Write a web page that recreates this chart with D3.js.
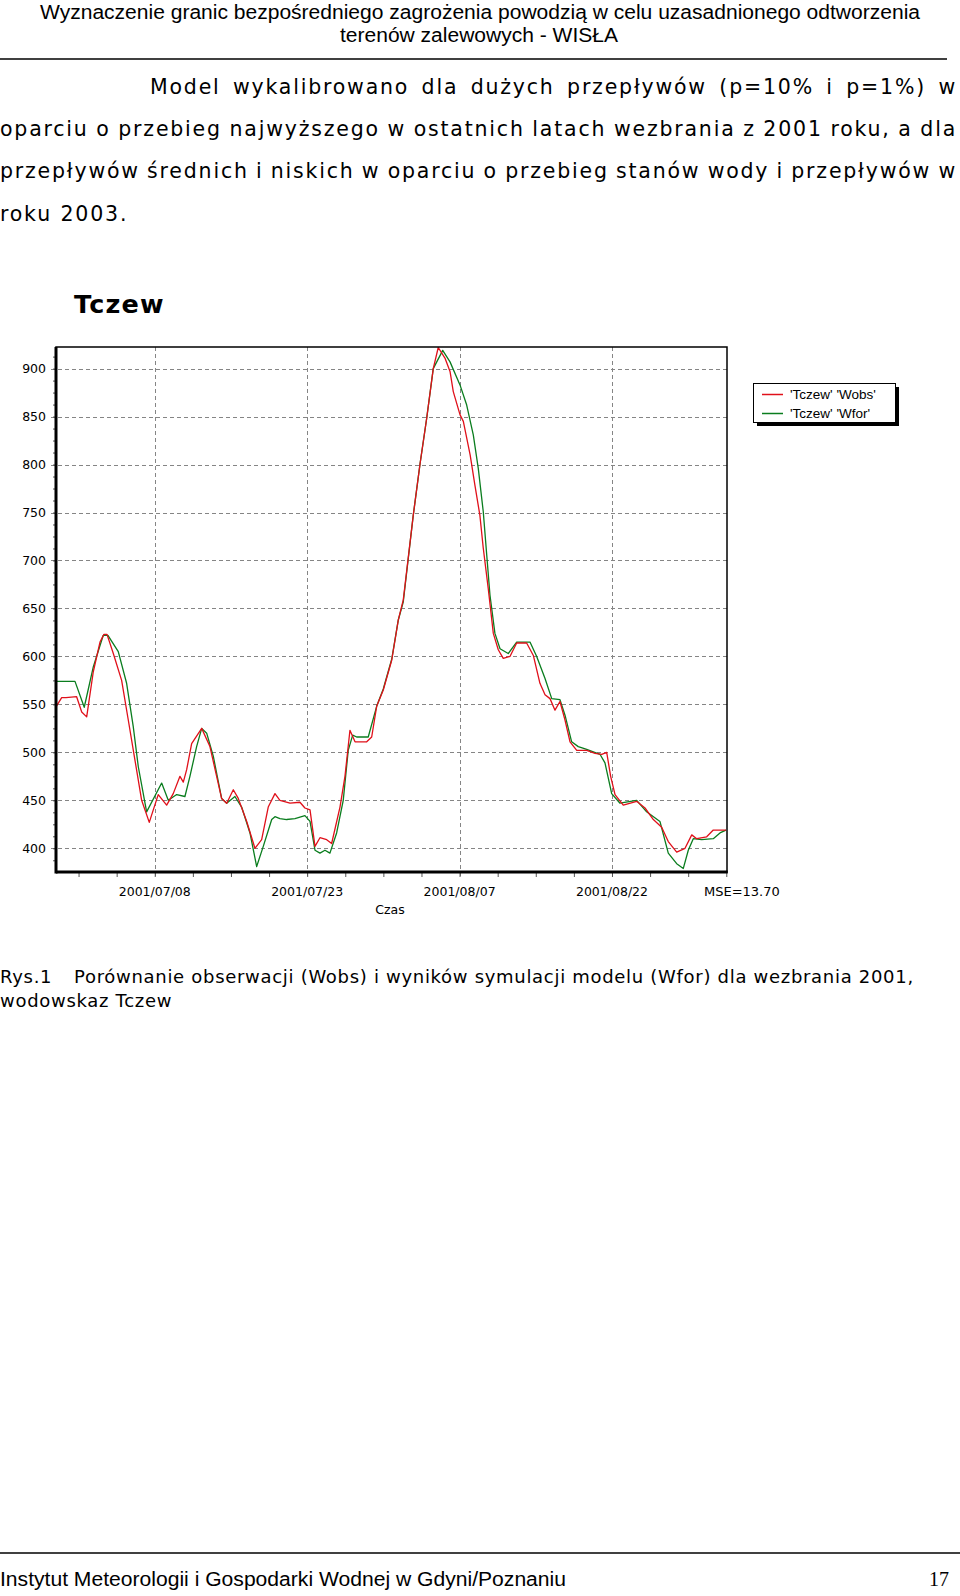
<!DOCTYPE html>
<html>
<head>
<meta charset="utf-8">
<script src="https://cdn.jsdelivr.net/npm/d3@7"></script>
<style>
  body { margin: 0; background: #fff; }
  svg { display: block; }
</style>
</head>
<body>
<div class="page"></div>
<script>
// chart data (days counted from 2001-07-08 00:00, water level in cm)
var obsDays = [-9.69, -9.16, -8.74, -7.69, -7.19, -6.70, -6.05, -5.39, -5.00, -4.70, -4.08, -3.26, -2.61, -1.95, -1.29, -0.54,
  0.34, 1.17, 1.82, 2.48, 2.81, 3.14, 3.63, 4.62, 5.43, 6.09, 6.58, 7.08, 7.73, 8.22, 9.05, 9.86, 10.52, 11.17, 11.83, 12.32,
  13.31, 14.29, 14.78, 15.28, 15.77, 16.26, 16.92, 17.41, 18.23, 18.72, 19.21, 19.71, 20.86, 21.35, 21.84, 22.49, 23.32, 23.97,
  24.46, 25.44, 26.10, 26.76, 27.41, 27.90, 28.56, 29.06, 29.38, 30.04, 30.37, 31.04, 31.50, 32.00, 32.33, 32.82, 33.32, 33.81,
  34.30, 34.96, 35.62, 36.60, 37.26, 37.91, 38.41, 38.90, 39.39, 39.88, 40.37, 40.87, 41.53, 42.51, 43.33, 43.99, 44.48, 44.87,
  45.30, 46.11, 47.43, 48.25, 49.07, 49.89, 50.54, 51.37, 52.19, 52.85, 53.34, 54.32, 54.97, 56.22];
var obsVals = [548, 557, 557, 558, 542, 537, 584, 615, 623, 623, 603, 575, 534, 492, 450, 427,
  456, 445, 457, 475, 469, 482, 509, 525, 506, 475, 452, 447, 461, 452, 428, 400, 409, 443, 457, 450,
  447, 448, 442, 440, 402, 411, 409, 405, 443, 475, 523, 511, 511, 516, 548, 565, 596, 638,
  659, 747, 800, 848, 900, 922, 911, 897, 876, 852, 845, 810, 779, 747, 713, 671, 624, 607,
  598, 600, 614, 614, 601, 572, 560, 556, 544, 553, 534, 511, 502, 502, 499, 498, 500, 475,
  456, 445, 449, 442, 430, 422, 407, 396, 400, 414, 410, 412, 419, 419];

var forDays = [-9.69, -7.85, -6.94, -6.05, -5.07, -4.61, -3.59, -2.77, -2.12, -1.62, -0.80, 0.68, 1.33, 2.16, 2.97, 3.46,
  4.12, 4.62, 5.11, 5.76, 6.58, 7.08, 7.89, 8.55, 9.37, 10.03, 10.68, 11.51, 11.83, 12.32, 12.98, 13.80, 14.78, 15.28,
  15.77, 16.26, 16.75, 17.24, 17.90, 18.55, 19.04, 19.48, 19.87, 21.01, 21.84, 22.49, 23.32, 23.97, 24.46, 25.44, 26.10,
  26.76, 27.41, 28.34, 29.06, 30.04, 30.70, 31.35, 31.84, 32.33, 32.67, 32.99, 33.48, 33.98, 34.79, 35.62, 36.93, 37.59,
  38.41, 39.07, 39.88, 40.37, 41.03, 41.68, 42.51, 43.82, 44.31, 44.97, 45.79, 47.43, 48.41, 49.72, 50.54, 51.37, 52.02,
  52.51, 53.00, 53.83, 54.97, 55.63, 56.22];
var forVals = [574, 574, 547, 589, 622, 622, 605, 572, 527, 485, 438, 468, 450, 456, 454, 475,
  506, 525, 520, 496, 452, 447, 454, 443, 416, 381, 402, 430, 433, 431, 430, 431, 434, 428,
  398, 395, 398, 395, 416, 450, 502, 518, 516, 516, 548, 566, 597, 638, 657, 747, 800,
  848, 900, 919, 907, 883, 862, 831, 796, 751, 706, 664, 624, 608, 603, 615, 615, 600,
  577, 556, 555, 539, 511, 506, 503, 498, 489, 457, 447, 450, 438, 428, 395, 384, 379,
  398, 410, 409, 410, 416, 419];

var yTicks = [400, 450, 500, 550, 600, 650, 700, 750, 800, 850, 900];
var xTickLabels = ["2001/07/08", "2001/07/23", "2001/08/07", "2001/08/22"];
var seriesNames = ["'Tczew' 'Wobs'", "'Tczew' 'Wfor'"];
var seriesColors = ["#e0101a", "#0a7d1e"];
var mseText = "MSE=13.70";

var headerLines = ["Wyznaczenie granic bezpośredniego zagrożenia powodzią w celu uzasadnionego odtworzenia",
  "terenów zalewowych - WISŁA"];
var paraLines = ["Model wykalibrowano dla dużych przepływów (p=10% i p=1%) w",
  "oparciu o przebieg najwyższego w ostatnich latach wezbrania z 2001 roku, a dla",
  "przepływów średnich i niskich w oparciu o przebieg stanów wody i przepływów w",
  "roku 2003."];
var captionLines = ["Porównanie obserwacji (Wobs) i wyników symulacji modelu (Wfor) dla wezbrania 2001,",
  "wodowskaz Tczew"];
var footerText = "Instytut Meteorologii i Gospodarki Wodnej w Gdyni/Poznaniu";

var svgWidth = 960;
var svgHeight = 1596;

var svg = d3.select(".page")
  .append("svg")
  .attr("width", svgWidth)
  .attr("height", svgHeight);

// page header
svg.append("text")
  .attr("x", 480).attr("y", 19)
  .attr("text-anchor", "middle")
  .attr("font-family", "Liberation Sans, Arial, sans-serif")
  .attr("font-size", 20)
  .attr("textLength", 880).attr("lengthAdjust", "spacingAndGlyphs")
  .text(headerLines[0]);
svg.append("text")
  .attr("x", 479).attr("y", 42)
  .attr("text-anchor", "middle")
  .attr("font-family", "Liberation Sans, Arial, sans-serif")
  .attr("font-size", 20)
  .attr("textLength", 278).attr("lengthAdjust", "spacingAndGlyphs")
  .text(headerLines[1]);
svg.append("line")
  .attr("x1", 0).attr("x2", 947).attr("y1", 59).attr("y2", 59)
  .attr("stroke", "#000").attr("stroke-width", 1.6);

// justified paragraph (wide letter spacing as in the scanned page)
var paraFont = "DejaVu Sans, Verdana, sans-serif";
var paraSize = 20.5;
var paraSpacing = 1.8;
var paraBase = [94, 136, 178, 221];
var paraStart = [150, 0, 0, 0];
var paraEnd = 957;
paraLines.forEach(function(line, i) {
  var words = line.split(" ");
  var g = svg.append("g");
  var nodes = words.map(function(w) {
    return g.append("text")
      .attr("y", paraBase[i])
      .attr("font-family", paraFont)
      .attr("font-size", paraSize)
      .attr("letter-spacing", paraSpacing)
      .text(w);
  });
  var widths = nodes.map(n => n.node().getComputedTextLength());
  var total = d3.sum(widths);
  var gap = paraSize * 0.33 + paraSpacing;
  if (i < paraLines.length - 1 && words.length > 1) {
    gap = (paraEnd - paraStart[i] - total) / (words.length - 1);
  }
  var x = paraStart[i];
  nodes.forEach(function(n, k) {
    n.attr("x", x);
    x += widths[k] + gap;
  });
});

// chart title
svg.append("text")
  .attr("x", 74).attr("y", 313)
  .attr("font-family", "DejaVu Sans, Verdana, sans-serif")
  .attr("font-weight", "bold")
  .attr("font-size", 25.5)
  .attr("letter-spacing", 1.2)
  .text("Tczew");

// plot area
var plot = {left: 56, top: 347, right: 727, bottom: 872};
var width = plot.right - plot.left;
var height = plot.bottom - plot.top;

var base = Date.UTC(2001, 6, 8);
function toDate(d) { return new Date(base + d * 864e5); }

var xScale = d3.scaleUtc()
  .domain([toDate(-9.72), toDate(56.32)])
  .range([0, width]);

var yScale = d3.scaleLinear()
  .domain([375.3, 922.5])
  .range([height, 0]);

var parseTick = d3.utcParse("%Y/%m/%d");
var xTicks = xTickLabels.map(parseTick);
var xMinor = d3.range(-8, 60).map(k => toDate(k * 3.75)).filter(d => d >= xScale.domain()[0] && d <= xScale.domain()[1]);
var yMinor = d3.range(375, 925, 12.5).filter(v => v >= 376);

var chartGroup = svg.append("g")
  .attr("transform", `translate(${plot.left}, ${plot.top})`);

// grid
chartGroup.append("g")
  .selectAll("line")
  .data(yTicks)
  .enter()
  .append("line")
  .attr("x1", -5).attr("x2", width)
  .attr("y1", d => Math.round(yScale(d)) + 0.5)
  .attr("y2", d => Math.round(yScale(d)) + 0.5)
  .attr("stroke", "#858585")
  .attr("stroke-dasharray", "4,3");

chartGroup.append("g")
  .selectAll("line")
  .data(xTicks)
  .enter()
  .append("line")
  .attr("x1", d => Math.round(xScale(d)) + 0.5)
  .attr("x2", d => Math.round(xScale(d)) + 0.5)
  .attr("y1", 0).attr("y2", height + 6)
  .attr("stroke", "#858585")
  .attr("stroke-dasharray", "4,3");

// minor ticks
var yAxis = d3.axisLeft(yScale).tickValues(yMinor).tickSize(3).tickFormat("");
chartGroup.append("g").call(yAxis)
  .call(g => g.select(".domain").remove())
  .call(g => g.selectAll("line").attr("stroke", "#555"));

var xAxis = d3.axisBottom(xScale).tickValues(xMinor).tickSize(5).tickFormat("");
chartGroup.append("g")
  .attr("transform", `translate(0, ${height})`)
  .call(xAxis)
  .call(g => g.select(".domain").remove())
  .call(g => g.selectAll("line").attr("stroke", "#555"));

// tick labels
chartGroup.append("g")
  .selectAll("text")
  .data(yTicks)
  .enter()
  .append("text")
  .attr("x", -10)
  .attr("y", d => yScale(d))
  .attr("dy", "0.35em")
  .attr("text-anchor", "end")
  .attr("font-family", "DejaVu Sans, Verdana, sans-serif")
  .attr("font-size", 12.5)
  .text(d => d);

chartGroup.append("g")
  .selectAll("text")
  .data(xTicks)
  .enter()
  .append("text")
  .attr("x", d => xScale(d))
  .attr("y", height + 24)
  .attr("text-anchor", "middle")
  .attr("font-family", "DejaVu Sans, Verdana, sans-serif")
  .attr("font-size", 12.5)
  .text(d => d3.utcFormat("%Y/%m/%d")(d));

chartGroup.append("text")
  .attr("x", width - 23)
  .attr("y", height + 24)
  .attr("font-family", "DejaVu Sans, Verdana, sans-serif")
  .attr("font-size", 13)
  .text(mseText);

chartGroup.append("text")
  .attr("x", 334)
  .attr("y", height + 42)
  .attr("text-anchor", "middle")
  .attr("font-family", "DejaVu Sans, Verdana, sans-serif")
  .attr("font-size", 12.5)
  .text("Czas");

// series lines
var series = [
  {days: obsDays, vals: obsVals},
  {days: forDays, vals: forVals}
];
var line = d3.line()
  .x(d => xScale(d[0]))
  .y(d => yScale(d[1]));

chartGroup.append("clipPath").attr("id", "plotClip")
  .append("rect").attr("width", width).attr("height", height);

series.slice().reverse().forEach(function(s, i) {
  var idx = series.length - 1 - i;
  var pts = s.days.map((d, k) => [toDate(d), s.vals[k]]);
  chartGroup.append("path")
    .datum(pts)
    .attr("clip-path", "url(#plotClip)")
    .attr("fill", "none")
    .attr("stroke", seriesColors[idx])
    .attr("stroke-width", 1.3)
    .attr("stroke-linejoin", "round")
    .attr("d", line);
});

// frame
chartGroup.append("rect")
  .attr("width", width).attr("height", height)
  .attr("fill", "none")
  .attr("stroke", "#000")
  .attr("stroke-width", 1.5);
chartGroup.append("line")
  .attr("x1", 0).attr("x2", 0).attr("y1", 0).attr("y2", height + 1.5)
  .attr("stroke", "#000").attr("stroke-width", 3);
chartGroup.append("line")
  .attr("x1", 0).attr("x2", width + 0.75).attr("y1", height).attr("y2", height)
  .attr("stroke", "#000").attr("stroke-width", 3);

// legend
var legend = svg.append("g").attr("transform", "translate(753, 383)");
legend.append("rect")
  .attr("x", 4).attr("y", 4).attr("width", 142).attr("height", 39)
  .attr("fill", "#000");
legend.append("rect")
  .attr("x", 0.5).attr("y", 0.5).attr("width", 142).attr("height", 39)
  .attr("fill", "#fff").attr("stroke", "#000");
seriesNames.forEach(function(name, i) {
  legend.append("line")
    .attr("x1", 9).attr("x2", 30)
    .attr("y1", 11.5 + i * 19).attr("y2", 11.5 + i * 19)
    .attr("stroke", seriesColors[i]).attr("stroke-width", 1.5);
  legend.append("text")
    .attr("x", 37).attr("y", 11.5 + i * 19)
    .attr("dy", "0.35em")
    .attr("font-family", "Liberation Sans, Arial, sans-serif")
    .attr("font-size", 13.5)
    .text(name);
});

// caption
var capFont = "DejaVu Sans, Verdana, sans-serif";
var capSize = 18;
var capSpacing = 0.7;
svg.append("text")
  .attr("x", 0).attr("y", 983)
  .attr("font-family", capFont).attr("font-size", capSize)
  .attr("letter-spacing", capSpacing)
  .text("Rys.1");
svg.append("text")
  .attr("x", 74).attr("y", 983)
  .attr("font-family", capFont).attr("font-size", capSize)
  .attr("letter-spacing", capSpacing)
  .text(captionLines[0]);
svg.append("text")
  .attr("x", 0).attr("y", 1007)
  .attr("font-family", capFont).attr("font-size", capSize)
  .attr("letter-spacing", capSpacing)
  .text(captionLines[1]);

// footer
svg.append("line")
  .attr("x1", 0).attr("x2", 960).attr("y1", 1553).attr("y2", 1553)
  .attr("stroke", "#000").attr("stroke-width", 1.6);
svg.append("text")
  .attr("x", 0).attr("y", 1586)
  .attr("font-family", "Liberation Sans, Arial, sans-serif")
  .attr("font-size", 20)
  .attr("textLength", 566).attr("lengthAdjust", "spacingAndGlyphs")
  .text(footerText);
svg.append("text")
  .attr("x", 949).attr("y", 1586)
  .attr("text-anchor", "end")
  .attr("font-family", "Liberation Serif, serif")
  .attr("font-size", 20)
  .text("17");
</script>
</body>
</html>
